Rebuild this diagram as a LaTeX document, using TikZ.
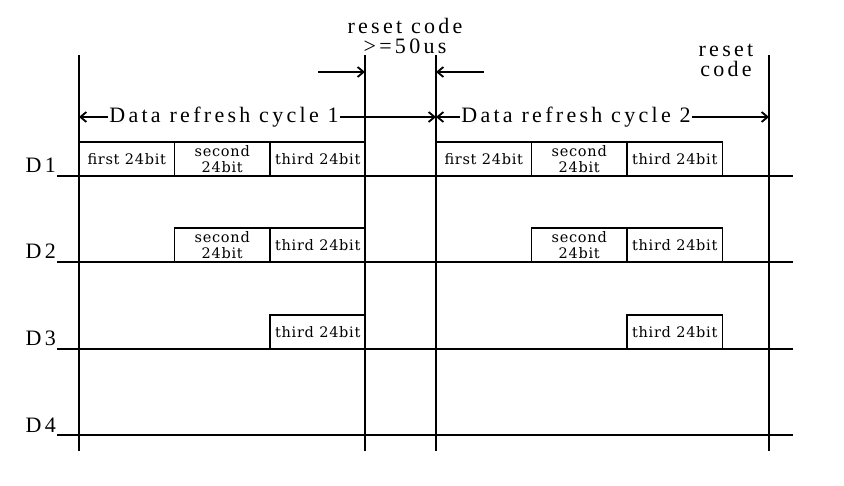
\documentclass[tikz,border=0pt]{standalone}
\usepackage{fontspec}
\setmainfont{Liberation Serif}
\usetikzlibrary{arrows.meta,positioning}
\newfontfamily\bigfont[LetterSpace=15]{Liberation Serif}
\newfontfamily\boxfont[LetterSpace=5]{DejaVu Serif}
\tikzset{
  sig/.style={line width=2.2pt},
  bitbox/.style={draw, line width=1.8pt, minimum width=95.5pt, minimum height=34pt,
    inner sep=0pt, outer sep=0pt, anchor=south west, font=\boxfont\fontsize{14.5}{15.5}\selectfont, align=center},
  lbl/.style={font=\bigfont\fontsize{22}{20}\selectfont, inner sep=1pt, align=center},
  arr/.style={line width=1.8pt, -{Straight Barb[length=6pt,width=10pt]}}
}
\begin{document}
\begin{tikzpicture}[x=1pt,y=-1pt]
\useasboundingbox (0,0) rectangle (844,486);
% vertical marks
\coordinate (v1) at (79,55);  \coordinate (v1b) at (79,451);
\coordinate (v2) at (365,55); \coordinate (v2b) at (365,451);
\coordinate (v3) at (436,55); \coordinate (v3b) at (436,451);
\coordinate (v4) at (769,55); \coordinate (v4b) at (769,451);
\draw[sig] (v1) -- (v1b);
\draw[sig] (v2) -- (v2b);
\draw[sig] (v3) -- (v3b);
\draw[sig] (v4) -- (v4b);

% signal lines
\foreach \i/\y in {1/176,2/262,3/349,4/435}{
  \coordinate (s\i) at (57,\y); \coordinate (e\i) at (793,\y);
  \draw[sig] (s\i) -- (e\i);
  \node[lbl, anchor=base east] (D\i) at (57,\y-3) {D\i};
}

% D1
\node[bitbox] (a1) at (79,176) {first 24bit};
\node[bitbox, right=0pt of a1] (a2) {second\\24bit};
\node[bitbox, right=0pt of a2] (a3) {third 24bit};
\node[bitbox] (a4) at (436,176) {first 24bit};
\node[bitbox, right=0pt of a4] (a5) {second\\24bit};
\node[bitbox, right=0pt of a5] (a6) {third 24bit};
% D2
\node[bitbox] (b2) at (174.5,262) {second\\24bit};
\node[bitbox, right=0pt of b2] (b3) {third 24bit};
\node[bitbox] (b5) at (531.5,262) {second\\24bit};
\node[bitbox, right=0pt of b5] (b6) {third 24bit};
% D3
\node[bitbox] (c3) at (270,349) {third 24bit};
\node[bitbox] (c6) at (627,349) {third 24bit};

% reset code
\node[lbl] (r1) at (405,36) {reset code\\>=50us};
\node[lbl] (r2) at (726,60) {reset\\code};
\coordinate (p1) at (318,72); \coordinate (p2) at (484,72);
\draw[arr] (p1) -- (p1 -| v2);
\draw[arr] (p2) -- (p2 -| v3);

% refresh cycles
\node[lbl] (cy1) at (224,117) {Data refresh cycle 1};
\node[lbl] (cy2) at (576,117) {Data refresh cycle 2};
\draw[arr] (cy1.west) -- (cy1.west -| v1);
\draw[arr] (cy1.east) -- (cy1.east -| v3);
\draw[arr] (cy2.west) -- (cy2.west -| v3);
\draw[arr] (cy2.east) -- (cy2.east -| v4);
\end{tikzpicture}
\end{document}
